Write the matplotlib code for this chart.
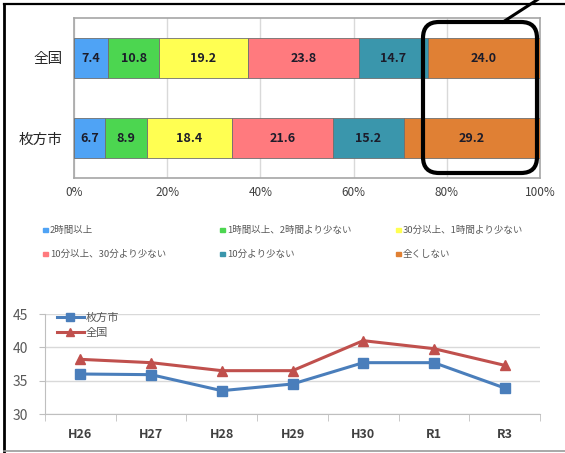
import matplotlib
matplotlib.use("Agg")
import matplotlib.pyplot as plt
from matplotlib.patches import FancyBboxPatch, Rectangle
from matplotlib.lines import Line2D
from matplotlib.transforms import IdentityTransform
import numpy as np

plt.rcParams['font.family'] = ['Noto Sans CJK JP', 'DejaVu Sans']

# --- data ---
regions = ['全国', '枚方市']
answer_labels = ['2時間以上', '1時間以上、2時間より少ない', '30分以上、1時間より少ない',
                 '10分以上、30分より少ない', '10分より少ない', '全くしない']
share_zenkoku = [7.4, 10.8, 19.2, 23.8, 14.7, 24.0]
share_hirakata = [6.7, 8.9, 18.4, 21.6, 15.2, 29.2]
bar_colors = ['#4FA3F5', '#4CD650', '#FFFF52', '#FF7A7E', '#3A96AC', '#E08034']

years = ['H26', 'H27', 'H28', 'H29', 'H30', 'R1', 'R3']
trend_hirakata = [36.0, 35.9, 33.5, 34.5, 37.7, 37.7, 33.9]
trend_zenkoku = [38.2, 37.7, 36.5, 36.5, 41.0, 39.8, 37.3]

W, H = 565, 453
fig = plt.figure(figsize=(W / 100, H / 100), dpi=100)


def px_axes(x0, y0, x1, y1):
    # image pixel box (top-left origin) -> figure axes
    return fig.add_axes([x0 / W, 1 - y1 / H, (x1 - x0) / W, (y1 - y0) / H])


# --- top: 100% stacked bars ---
ax = px_axes(74, 18, 540, 178)
shares = np.array([share_zenkoku, share_hirakata])
ypos = np.arange(len(regions))
left = np.zeros(len(regions))
for k in range(len(answer_labels)):
    bars = ax.barh(ypos, shares[:, k], left=left, height=0.5, color=bar_colors[k],
                   edgecolor='#6f6f6f', linewidth=0.6, zorder=3)
    ax.bar_label(bars, fmt='%.1f', label_type='center', fontsize=9,
                 fontweight='bold', color='#1c1c2a', zorder=4)
    left += shares[:, k]
ax.set_xlim(0, 100)
ax.set_ylim(1.5, -0.5)
ax.set_yticks(ypos)
ax.set_yticklabels(regions, fontsize=10.5, color='#262626')
ax.set_xticks(np.arange(0, 101, 20))
ax.set_xticklabels([f'{v}%' for v in range(0, 101, 20)], fontsize=8.5, color='#404040')
ax.tick_params(length=0, pad=6)
ax.tick_params(axis='y', pad=8)
ax.grid(axis='x', color='#d9d9d9', linewidth=1, zorder=0)
for s in ax.spines.values():
    s.set_color('#a6a6a6')
    s.set_linewidth(1.2)

# legend of the bar chart, 3 columns x 2 rows
col_x = [45, 222, 398]
row_y = [230, 254]
for k, lab in enumerate(answer_labels):
    cx = col_x[k % 3]
    cy = row_y[k // 3]
    fig.patches.append(Rectangle((cx - 2, H - cy - 2), 4.5, 4.5, color=bar_colors[k],
                                 transform=IdentityTransform(), figure=fig))
    fig.text((cx + 5) / W, 1 - cy / H, lab, fontsize=6.8, color='#595959',
             va='center', ha='left')

# --- bottom: trend lines ---
ax2 = px_axes(45, 314, 540, 414)
xs = np.arange(len(years))
ax2.plot(xs, trend_hirakata, color='#4A7EBB', linewidth=2.2, marker='s', markersize=7,
         label='枚方市', zorder=3)
ax2.plot(xs, trend_zenkoku, color='#C0504D', linewidth=2.2, marker='^', markersize=7,
         label='全国', zorder=3)
ax2.set_xlim(-0.5, len(years) - 0.5)
ax2.set_ylim(30, 45)
ax2.set_yticks([30, 35, 40, 45])
ax2.set_xticks(xs)
ax2.set_xticklabels(years, fontsize=9, fontweight='bold', color='#404040')
ax2.set_xticks(np.arange(-0.5, len(years), 1), minor=True)
ax2.tick_params(axis='x', which='major', length=0, pad=10)
ax2.tick_params(axis='x', which='minor', length=5, color='#bfbfbf', direction='out')
ax2.tick_params(axis='y', length=4, color='#bfbfbf', labelsize=10, labelcolor='#595959', pad=8)
ax2.grid(axis='y', color='#d9d9d9', linewidth=1, zorder=0)
for side in ['top', 'right']:
    ax2.spines[side].set_visible(False)
for side in ['left', 'bottom']:
    ax2.spines[side].set_color('#bfbfbf')
leg = ax2.legend(loc='upper left', bbox_to_anchor=(0.015, 1.06), frameon=False,
                 fontsize=8, handlelength=2.4, handletextpad=0.2, labelspacing=0.5,
                 markerscale=0.8, borderaxespad=0)
for t in leg.get_texts():
    t.set_color('#595959')

# --- frame and highlight ---
fig.lines.append(Line2D([4, W], [H - 4, H - 4], color='black', linewidth=1.6,
                        transform=IdentityTransform()))
fig.lines.append(Line2D([4, 4], [0, H - 4], color='black', linewidth=2,
                        transform=IdentityTransform()))
fig.lines.append(Line2D([4, W], [2, 2], color='#999999', linewidth=1.2,
                        transform=IdentityTransform()))
fig.patches.append(FancyBboxPatch((423, H - 173), 114, 151,
                                  boxstyle='round,pad=0,rounding_size=16',
                                  facecolor='none', edgecolor='black', linewidth=3,
                                  transform=IdentityTransform(), figure=fig, zorder=10))
fig.lines.append(Line2D([503, 540], [H - 22, H + 2], color='black', linewidth=2.2,
                        transform=IdentityTransform(), zorder=10))

fig.savefig('out.png', dpi=100)
